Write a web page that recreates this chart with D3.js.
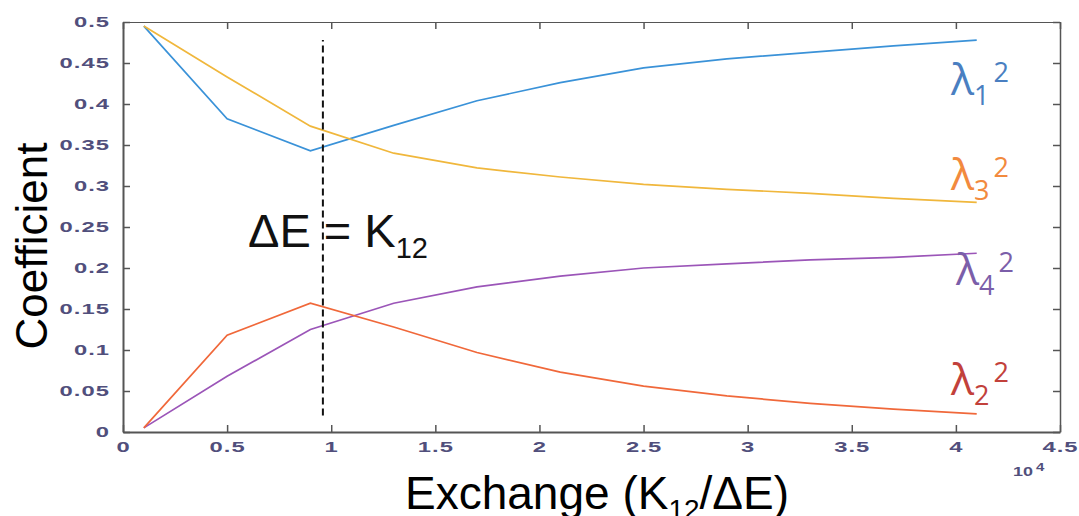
<!DOCTYPE html>
<html>
<head>
<meta charset="utf-8">
<script src="https://cdn.jsdelivr.net/npm/d3@7"></script>
<style>
  body { margin: 0; background: #fff; }
  svg { display: block; }
</style>
</head>
<body>
<div id="chart"></div>
<script>
// exchange values (x 10^4)
const xVals = [0.1, 0.5, 0.9, 1.3, 1.7, 2.1, 2.5, 2.9, 3.3, 3.7, 4.1];

const lambda1 = [0.495, 0.382, 0.343, 0.374, 0.404, 0.426, 0.444, 0.455, 0.463, 0.471, 0.478];
const lambda2 = [0.005, 0.118, 0.157, 0.128, 0.097, 0.073, 0.056, 0.044, 0.035, 0.028, 0.022];
const lambda3 = [0.495, 0.433, 0.373, 0.340, 0.322, 0.311, 0.302, 0.296, 0.291, 0.285, 0.280];
const lambda4 = [0.005, 0.068, 0.125, 0.157, 0.177, 0.190, 0.200, 0.205, 0.210, 0.213, 0.218];

const xTicks = [0, 0.5, 1, 1.5, 2, 2.5, 3, 3.5, 4, 4.5];
const yTicks = [0, 0.05, 0.1, 0.15, 0.2, 0.25, 0.3, 0.35, 0.4, 0.45, 0.5];

// dashed marker where ΔE = K12
const dashX = 0.96;
const dashY = [0.02, 0.478];

const width = 1079, height = 516;
const margin = { top: 22, right: 19, bottom: 84, left: 123 };

const svg = d3.select("#chart").append("svg")
  .attr("width", width)
  .attr("height", height);

const x = d3.scaleLinear().domain([0, 4.5]).range([margin.left, width - margin.right]);
const y = d3.scaleLinear().domain([0, 0.5]).range([height - margin.bottom, margin.top]);

const tickColor = "#514f7c";
const axisColor = "#555";
const stretch = 1.7; // the source picture is stretched sideways

// axes with inward ticks (matlab style)
const xAxis = svg.append("g")
  .attr("transform", `translate(0,${y(0)})`)
  .call(d3.axisBottom(x).tickValues(xTicks).tickSizeInner(-7).tickSizeOuter(0)
    .tickFormat(d => d3.format("")(d)).tickPadding(10));
const yAxis = svg.append("g")
  .attr("transform", `translate(${x(0)},0)`)
  .call(d3.axisLeft(y).tickValues(yTicks).tickSizeInner(-7).tickSizeOuter(0)
    .tickFormat(d => d3.format("")(d)).tickPadding(13));
const xTop = svg.append("g")
  .attr("transform", `translate(0,${y(0.5)})`)
  .call(d3.axisTop(x).tickValues(xTicks).tickSizeInner(-7).tickSizeOuter(0).tickFormat(""));
const yRight = svg.append("g")
  .attr("transform", `translate(${x(4.5)},0)`)
  .call(d3.axisRight(y).tickValues(yTicks).tickSizeInner(-7).tickSizeOuter(0).tickFormat(""));

[xAxis, yAxis, xTop, yRight].forEach(g => {
  g.select(".domain").attr("stroke", axisColor).attr("stroke-width", 2);
  g.selectAll(".tick line").attr("stroke", axisColor).attr("stroke-width", 1.5);
  g.selectAll(".tick text")
    .attr("fill", tickColor)
    .attr("font-family", "Liberation Sans, Arial, sans-serif")
    .attr("font-weight", "bold")
    .attr("font-size", 14)
    .attr("letter-spacing", 0.6);
});
xTop.select(".domain").attr("stroke-width", 1.2);
yRight.select(".domain").attr("stroke-width", 1.5);

xAxis.selectAll(".tick text").attr("transform", `scale(${stretch},1)`);
yAxis.selectAll(".tick text")
  .attr("x", -13 / stretch)
  .attr("transform", `scale(${stretch},1)`);

// 10^4 multiplier
const mult = svg.append("text")
  .attr("transform", `translate(1013,476) scale(1.5,1)`)
  .attr("fill", tickColor)
  .attr("font-family", "Liberation Sans, Arial, sans-serif")
  .attr("font-weight", "bold")
  .attr("font-size", 12);
mult.append("tspan").text("10");
mult.append("tspan").attr("dy", -5).attr("font-size", 10).attr("dx", 2).text("4");

// series
const series = [
  { name: "l1", values: lambda1, color: "#3a92d8" },
  { name: "l3", values: lambda3, color: "#f0b73c" },
  { name: "l4", values: lambda4, color: "#9b55b8" },
  { name: "l2", values: lambda2, color: "#f0683a" }
];

const line = d3.line().x(d => x(d[0])).y(d => y(d[1]));

svg.selectAll(".series")
  .data(series)
  .join("path")
  .attr("class", "series")
  .attr("fill", "none")
  .attr("stroke", d => d.color)
  .attr("stroke-width", 1.7)
  .attr("d", d => line(xVals.map((xv, i) => [xv, d.values[i]])));

// dashed vertical line
svg.append("line")
  .attr("x1", x(dashX)).attr("x2", x(dashX))
  .attr("y1", y(dashY[0])).attr("y2", y(dashY[1]))
  .attr("stroke", "#111")
  .attr("stroke-width", 2)
  .attr("stroke-dasharray", "7,4");

// annotation
const ann = svg.append("text")
  .attr("x", 248).attr("y", 247)
  .attr("font-family", "Liberation Sans, Arial, sans-serif")
  .attr("font-size", 47)
  .attr("fill", "#111");
ann.append("tspan").text("ΔE = K");
ann.append("tspan").attr("dy", 11).attr("font-size", 29).text("12");

// series labels
const labels = [
  { sub: "1", color: "#4a7fc1", x: 951, y: 95 },
  { sub: "3", color: "#f28a3e", x: 951, y: 190 },
  { sub: "4", color: "#7b5ea9", x: 956, y: 285 },
  { sub: "2", color: "#c2413b", x: 951, y: 395 }
];
labels.forEach(l => {
  const t = svg.append("text")
    .attr("x", l.x).attr("y", l.y)
    .attr("font-family", "Open Sans, Noto Sans, sans-serif")
    .attr("font-size", 43)
    .attr("fill", l.color);
  t.append("tspan").text("λ");
  t.append("tspan").attr("dy", 10).attr("font-size", 27).text(l.sub);
  t.append("tspan").attr("dy", -23).attr("dx", 4).attr("font-size", 27).text("2");
});

// axis titles
const xt = svg.append("text")
  .attr("x", 405).attr("y", 509)
  .attr("font-family", "Liberation Sans, Arial, sans-serif")
  .attr("font-size", 46)
  .attr("fill", "#000");
xt.append("tspan").text("Exchange (K");
xt.append("tspan").attr("dy", 10).attr("font-size", 28).text("12");
xt.append("tspan").attr("dy", -10).text("/ΔE)");

svg.append("text")
  .attr("transform", "translate(47,246) rotate(-90)")
  .attr("text-anchor", "middle")
  .attr("font-family", "Liberation Sans, Arial, sans-serif")
  .attr("font-size", 44)
  .attr("fill", "#000")
  .text("Coefficient");
</script>
</body>
</html>
